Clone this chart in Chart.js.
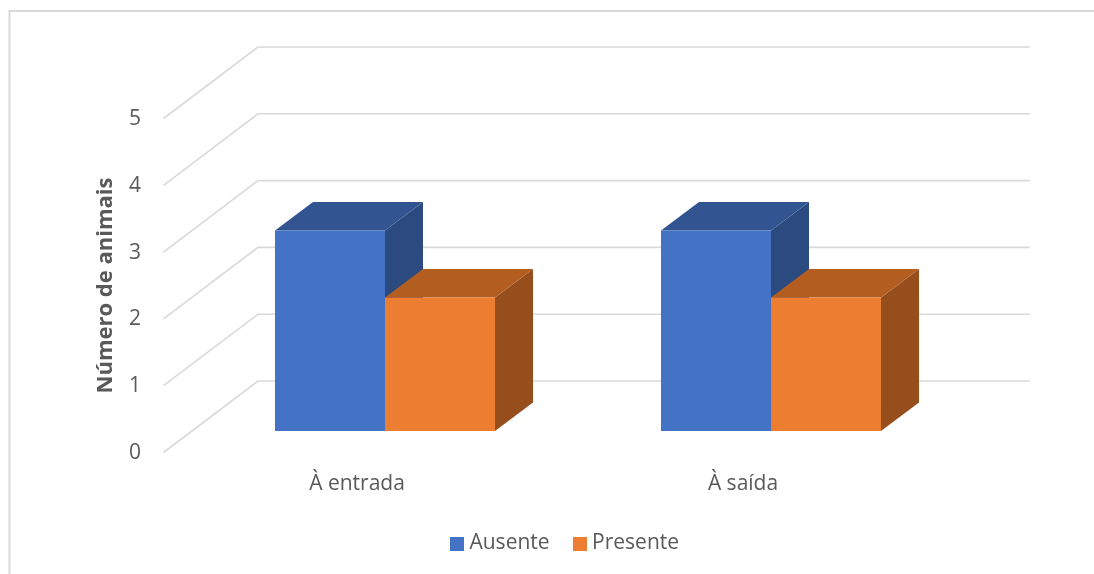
<!DOCTYPE html>
<html lang="pt">
<head>
<meta charset="utf-8">
<title>Número de animais</title>
<script src="https://cdn.jsdelivr.net/npm/chart.js@4/dist/chart.umd.min.js"></script>
<style>
	html, body { margin: 0; padding: 0; background: #fff; overflow: hidden; }
	#chart { display: block; }
</style>
</head>
<body>
<canvas id="chart" width="1094" height="574"></canvas>
<script>
	'use strict';

	const categories = ['À entrada', 'À saída'];
	const ausente = [3, 3];
	const presente = [2, 2];
	const axisTitle = 'Número de animais';

	const TEXT = '#595959';
	const GRID = '#D9D9D9';
	const FONT = "'Open Sans', sans-serif";

	// 3D look: offsets relative to the plane the bar fronts sit on
	const DEPTH = { x: 38, y: -28.5 };
	const WALL = { frontX: 163.5, frontDy: 21.5, backX: 258, backDy: -50, endX: 1030 };
	const FACES = [
		{ top: '#325592', side: '#2A4A80' },
		{ top: '#B35D20', side: '#964F1C' },
	];

	function squareIcon(color) {
		const c = document.createElement('canvas');
		c.width = 14;
		c.height = 14;
		const ctx = c.getContext('2d');
		ctx.fillStyle = color;
		ctx.fillRect(0, 0, 14, 14);
		return c;
	}

	function fillPoly(ctx, color, pts) {
		ctx.fillStyle = color;
		ctx.beginPath();
		pts.forEach((p, i) => (i ? ctx.lineTo(p[0], p[1]) : ctx.moveTo(p[0], p[1])));
		ctx.closePath();
		ctx.fill();
	}

	const frame3d = {
		id: 'frame3d',
		beforeDatasetsDraw(chart) {
			const ctx = chart.ctx;
			const yScale = chart.scales.y;

			ctx.save();
			// outer frame (only top and left are in the picture)
			ctx.strokeStyle = GRID;
			ctx.lineWidth = 2;
			ctx.beginPath();
			ctx.moveTo(9.5, 574);
			ctx.lineTo(9.5, 11);
			ctx.lineTo(1094, 11);
			ctx.stroke();

			// gridlines run along the side wall and then the back wall
			ctx.lineWidth = 1.6;
			yScale.ticks.forEach(t => {
				const y = yScale.getPixelForValue(t.value);
				ctx.beginPath();
				ctx.moveTo(WALL.frontX, y + WALL.frontDy);
				ctx.lineTo(WALL.backX, y + WALL.backDy);
				ctx.lineTo(WALL.endX, y + WALL.backDy);
				ctx.stroke();
			});

			// top and side faces of the bars
			chart.data.datasets.forEach((ds, i) => {
				chart.getDatasetMeta(i).data.forEach(bar => {
					const l = bar.x - bar.width / 2;
					const r = bar.x + bar.width / 2;
					fillPoly(ctx, FACES[i].side, [
						[r, bar.y], [r + DEPTH.x, bar.y + DEPTH.y],
						[r + DEPTH.x, bar.base + DEPTH.y], [r, bar.base],
					]);
					fillPoly(ctx, FACES[i].top, [
						[l, bar.y], [l + DEPTH.x, bar.y + DEPTH.y],
						[r + DEPTH.x, bar.y + DEPTH.y], [r, bar.y],
					]);
				});
			});
			ctx.restore();
		},
		afterDraw(chart) {
			const ctx = chart.ctx;
			ctx.save();
			ctx.translate(106, 285.5);
			ctx.rotate(-Math.PI / 2);
			ctx.font = 'bold 22px ' + FONT;
			ctx.fillStyle = TEXT;
			ctx.textAlign = 'center';
			ctx.textBaseline = 'middle';
			ctx.fillText(axisTitle, 0, 0);
			ctx.restore();
		},
	};

	new Chart(document.getElementById('chart'), {
		type: 'bar',
		data: {
			labels: categories,
			datasets: [
				{ label: 'Ausente', data: ausente, backgroundColor: '#4472C4', yAxisID: 'y' },
				{ label: 'Presente', data: presente, backgroundColor: '#ED7D31', yAxisID: 'y' },
			],
		},
		plugins: [frame3d],
		options: {
			responsive: false,
			animation: false,
			layout: { padding: { left: 41, right: 0, top: 97, bottom: 10 } },
			categoryPercentage: 0.57,
			barPercentage: 1,
			scales: {
				x: {
					grid: { display: false, drawTicks: false },
					border: { display: false },
					ticks: {
						color: TEXT,
						font: { family: FONT, size: 21 },
						padding: 40,
						labelOffset: -28,
						maxRotation: 0,
					},
					afterFit(scale) { scale.height = 73; },
				},
				y: {
					min: 0,
					max: 5,
					grid: { display: false, drawTicks: false },
					border: { display: false },
					ticks: {
						stepSize: 1,
						color: TEXT,
						font: { family: FONT, size: 21 },
						padding: 51,
						labelOffset: 22,
					},
					afterFit(scale) { scale.width = 151; },
				},
				// empty axis, only reserves the room right of the plot
				spacer: {
					axis: 'y',
					position: 'right',
					grid: { display: false, drawTicks: false },
					border: { display: false },
					ticks: { display: false },
					afterFit(scale) { scale.width = 130; },
				},
			},
			plugins: {
				tooltip: { enabled: false },
				legend: {
					position: 'bottom',
					labels: {
						color: TEXT,
						font: { family: FONT, size: 21 },
						usePointStyle: true,
						pointStyleWidth: 3,
						boxHeight: 14,
						padding: 29,
						generateLabels(chart) {
							return chart.data.datasets.map((ds, i) => ({
								text: ds.label,
								fontColor: TEXT,
								pointStyle: squareIcon(ds.backgroundColor),
								datasetIndex: i,
							}));
						},
					},
				},
			},
		},
	});
</script>
</body>
</html>
